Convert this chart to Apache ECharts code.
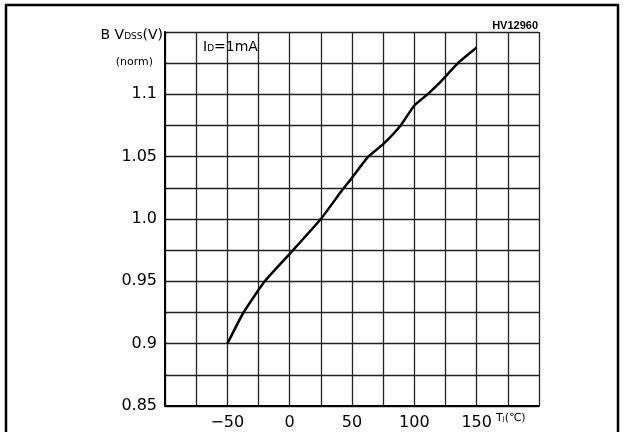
<!DOCTYPE html>
<html><head><meta charset="utf-8">
<script src="https://cdn.jsdelivr.net/npm/echarts@6/dist/echarts.min.js"></script>
<style>html,body{margin:0;padding:0;background:#fff}#c{width:626px;height:432px}</style>
</head><body><div id="c"></div>
<script>
var tempC = [-50, -37, -20, 0, 25, 42, 50, 63, 75, 89, 100, 110.5, 120, 135, 150];
var bvNorm = [0.9, 0.925, 0.95, 0.972, 1.0, 1.023, 1.033, 1.05, 1.06, 1.075, 1.091, 1.1, 1.109, 1.125, 1.1375];
var xTickLabels = {'-50': '\u221250', '0': '0', '50': '50', '100': '100', '150': '150'};
var yTickLabels = {'0.85': '0.85', '0.9': '0.9', '0.95': '0.95', '1': '1.0', '1.05': '1.05', '1.1': '1.1'};

var chart = echarts.init(document.getElementById('c'), null, {renderer: 'canvas'});
var font = 'DejaVu Sans';
chart.setOption({
  animation: false,
  backgroundColor: '#fff',
  grid: {left: 165, top: 32, right: 87, bottom: 26},
  xAxis: {
    type: 'value', min: -100, max: 200, interval: 25,
    axisLine: {show: true, onZero: false, lineStyle: {color: '#000', width: 2}},
    axisTick: {show: false},
    splitLine: {show: true, lineStyle: {color: '#222', width: 1.3}},
    axisLabel: {
      color: '#000', fontFamily: font, fontSize: 16, margin: 9,
      formatter: function (v) { var k = String(Math.round(v)); return xTickLabels[k] !== undefined ? xTickLabels[k] : ''; }
    }
  },
  yAxis: {
    type: 'value', min: 0.85, max: 1.15, interval: 0.025,
    axisLine: {show: true, onZero: false, lineStyle: {color: '#000', width: 2}},
    axisTick: {show: false},
    splitLine: {show: true, lineStyle: {color: '#222', width: 1.3}},
    axisLabel: {
      color: '#000', fontFamily: font, fontSize: 16, margin: 8,
      formatter: function (v) { var k = String(Math.round(v * 1000) / 1000); return yTickLabels[k] !== undefined ? yTickLabels[k] : ''; }
    }
  },
  series: [{
    type: 'line',
    data: tempC.map(function (t, i) { return [t, bvNorm[i]]; }),
    showSymbol: false,
    smooth: 0.15,
    lineStyle: {color: '#000', width: 2.5},
    z: 5
  }],
  graphic: [
    {type: 'rect', shape: {x: 6, y: 5, width: 612, height: 440}, style: {fill: 'none', stroke: '#000', lineWidth: 2.5}, silent: true},
    {type: 'text', x: 163, y: 35, style: {
      text: '{a|B V}{b|DSS}{a|(V)}', align: 'right', verticalAlign: 'middle',
      rich: {a: {fontFamily: font, fontSize: 14, fill: '#000'}, b: {fontFamily: font, fontSize: 9, fill: '#000', padding: [3, 0, 0, 0]}}
    }},
    {type: 'text', x: 153, y: 62, style: {text: '(norm)', align: 'right', verticalAlign: 'middle', fontFamily: font, fontSize: 11, fill: '#000'}},
    {type: 'text', x: 203, y: 47, style: {
      text: '{a|I}{b|D}{a|=1mA}', align: 'left', verticalAlign: 'middle',
      rich: {a: {fontFamily: font, fontSize: 14, fill: '#000'}, b: {fontFamily: font, fontSize: 9, fill: '#000', padding: [3, 0, 0, 0]}}
    }},
    {type: 'text', x: 538, y: 26, style: {text: 'HV12960', align: 'right', verticalAlign: 'middle', fontFamily: 'Liberation Sans', fontWeight: 'bold', fontSize: 11, fill: '#000'}},
    {type: 'text', x: 496, y: 418, style: {text: 'T\u2C7C(\u2103)', align: 'left', verticalAlign: 'middle', fontFamily: font, fontSize: 11, fill: '#000'}}
  ]
});
</script>
</body></html>
